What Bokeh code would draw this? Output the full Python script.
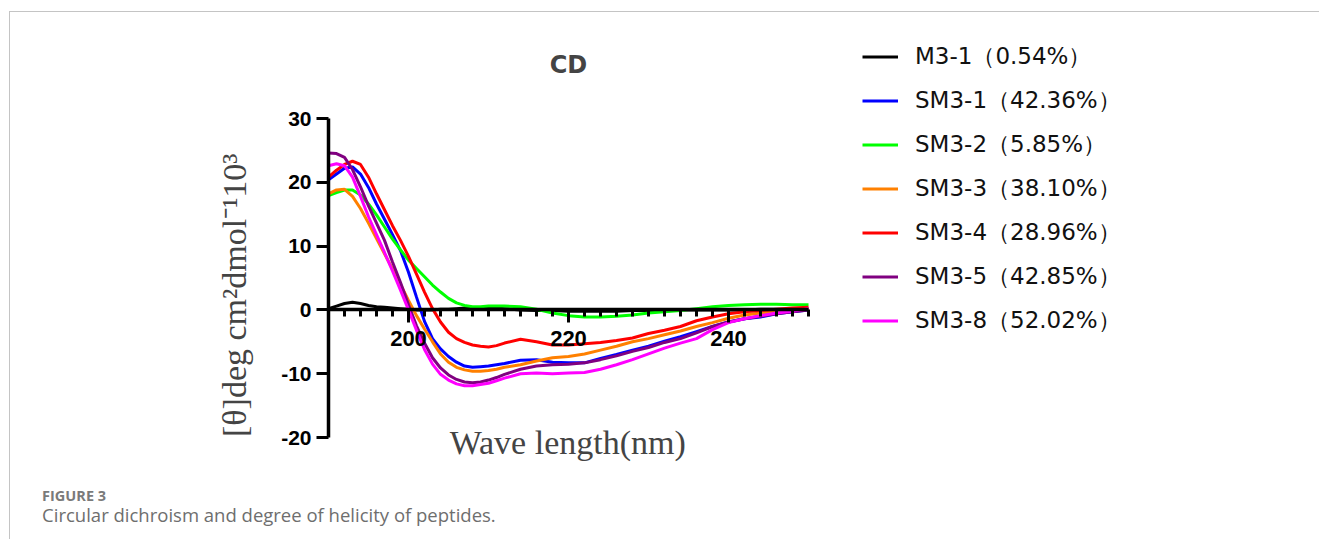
from math import pi
from bokeh.plotting import figure
from bokeh.models import Range1d, FixedTicker, Label, Legend, LegendItem
from bokeh.embed import file_html
from bokeh.resources import INLINE

# ---------------- data ----------------
wavelength = list(range(190, 213)) + list(range(214, 251, 2))

m3_1 = [0.2, 0.6, 1.0, 1.2, 1.0, 0.7, 0.5, 0.4, 0.3, 0.2, 0.1, 0.0, 0.0, 0.0, 0.1, 0.1, 0.2, 0.3, 0.3, 0.3, 0.3, 0.3, 0.2,
        0.0, -0.1, -0.1, -0.2, -0.2, -0.2, -0.2, -0.1, -0.1, 0.0, 0.0, 0.0, 0.0, 0.0, 0.0, 0.1, 0.1, 0.1, 0.1]
sm3_1 = [20.4, 21.3, 22.2, 22.4, 21.3, 19.2, 16.6, 14.2, 11.8, 9.3, 5.9, 2.0, -1.8, -4.5, -6.1, -7.3, -8.2, -8.8, -9.0, -8.9, -8.8, -8.6, -8.4,
         -7.9, -7.8, -8.2, -8.3, -8.3, -7.6, -7.0, -6.3, -5.7, -4.9, -4.2, -3.4, -2.6, -1.9, -1.4, -1.1, -0.6, -0.3, 0.0]
sm3_2 = [17.9, 18.4, 18.8, 18.8, 18.0, 16.6, 14.9, 13.0, 11.1, 9.4, 7.8, 6.5, 5.2, 3.9, 2.8, 1.8, 1.1, 0.7, 0.5, 0.5, 0.6, 0.6, 0.6,
         0.5, 0.1, -0.5, -0.9, -1.1, -1.1, -1.0, -0.8, -0.5, -0.3, -0.1, 0.2, 0.5, 0.7, 0.8, 0.9, 0.9, 0.8, 0.8]
sm3_3 = [18.2, 18.8, 18.9, 17.8, 15.9, 13.6, 11.2, 8.8, 6.4, 4.0, 1.5, -0.9, -3.0, -5.0, -6.9, -8.2, -9.0, -9.4, -9.6, -9.6, -9.5, -9.3, -9.0,
         -8.6, -8.0, -7.5, -7.3, -6.9, -6.3, -5.7, -5.0, -4.5, -3.9, -3.3, -2.6, -2.0, -1.3, -0.8, -0.5, -0.3, -0.1, 0.2]
sm3_4 = [20.8, 21.9, 22.8, 23.3, 22.8, 20.8, 18.2, 15.7, 13.2, 10.9, 8.4, 5.6, 2.8, 0.2, -1.9, -3.5, -4.5, -5.1, -5.5, -5.7, -5.8, -5.6, -5.2,
         -4.6, -5.0, -5.5, -5.5, -5.3, -5.1, -4.8, -4.4, -3.7, -3.2, -2.6, -1.7, -1.1, -0.6, -0.3, -0.1, 0.1, 0.3, 0.4]
sm3_5 = [24.6, 24.5, 23.9, 22.0, 19.3, 16.3, 13.6, 10.9, 7.5, 4.3, 0.8, -2.5, -5.2, -7.5, -9.1, -10.2, -10.9, -11.3, -11.4, -11.3, -11.0, -10.6, -10.1,
         -9.3, -8.8, -8.6, -8.5, -8.3, -7.8, -7.2, -6.5, -5.9, -5.1, -4.5, -3.6, -2.6, -1.9, -1.4, -1.0, -0.6, -0.3, 0.0]
sm3_8 = [22.6, 22.9, 22.6, 20.8, 17.8, 14.6, 11.8, 9.0, 6.1, 3.1, 0.0, -3.2, -6.2, -8.5, -10.1, -11.0, -11.6, -11.9, -11.9, -11.7, -11.5, -11.1, -10.7,
         -10.0, -9.9, -10.0, -9.9, -9.8, -9.3, -8.6, -7.8, -6.9, -6.0, -5.2, -4.5, -3.1, -2.0, -1.4, -0.9, -0.5, -0.2, 0.2]

series_labels = ["M3-1（0.54%）", "SM3-1（42.36%）", "SM3-2（5.85%）", "SM3-3（38.10%）",
                 "SM3-4（28.96%）", "SM3-5（42.85%）", "SM3-8（52.02%）"]
series_values = [m3_1, sm3_1, sm3_2, sm3_3, sm3_4, sm3_5, sm3_8]
series_colors = ["#000000", "#0000FF", "#00FF00", "#FF8000", "#FF0000", "#800080", "#FF00FF"]

x_bounds = (190, 250)
y_bounds = (-20, 30)
x_major = [200, 220, 240]
x_minor = list(range(190, 251, 2))
y_major = [-20, -10, 0, 10, 20, 30]

# ---------------- figure ----------------
W, H = 1310, 528
PX_PER_NM = 8.0
PX_PER_UNIT = 6.38
x0 = 190 - 318 / PX_PER_NM
y1 = 30 + 106 / PX_PER_UNIT
p = figure(width=W, height=H,
           x_range=Range1d(x0, x0 + W / PX_PER_NM),
           y_range=Range1d(y1 - H / PX_PER_UNIT, y1),
           output_backend="svg", toolbar_location=None, min_border=0)
p.title.visible = False
p.styles = {"border-top": "1px solid #c4c4c4", "border-left": "1px solid #c4c4c4",
            "margin-left": "9px", "margin-top": "11px"}
p.outline_line_color = None
p.xgrid.visible = False
p.ygrid.visible = False
p.background_fill_color = "white"
p.border_fill_color = "white"

items = []
for lab, vals, col in zip(series_labels, series_values, series_colors):
    r = p.line(wavelength, vals, line_color=col, line_width=3)
    items.append(LegendItem(label=lab, renderers=[r]))

# axes
xa = p.xaxis[0]
xa.fixed_location = 0
xa.bounds = x_bounds
xa.ticker = FixedTicker(ticks=x_major, minor_ticks=x_minor)
xa.axis_line_width = 3.5
xa.major_tick_line_width = 3
xa.minor_tick_line_width = 3
xa.major_tick_out = 13
xa.major_tick_in = 0
xa.minor_tick_out = 7
xa.minor_tick_in = 0
xa.major_label_text_font = "Liberation Sans"
xa.major_label_text_font_style = "bold"
xa.major_label_text_font_size = "22px"
xa.major_label_text_color = "black"
xa.major_label_standoff = 8

ya = p.yaxis[0]
ya.fixed_location = 190
ya.bounds = y_bounds
ya.ticker = FixedTicker(ticks=y_major, minor_ticks=[])
ya.major_label_overrides = {v: str(v) for v in y_major}
ya.axis_line_width = 3.5
ya.major_tick_line_width = 3
ya.major_tick_out = 12
ya.major_tick_in = 0
ya.minor_tick_out = 0
ya.minor_tick_in = 0
ya.major_label_text_font = "Liberation Sans"
ya.major_label_text_font_style = "bold"
ya.major_label_text_font_size = "21px"
ya.major_label_text_color = "black"
ya.major_label_standoff = 5

# legend
legend = Legend(items=items, location=(852, 204), orientation="vertical",
                background_fill_alpha=0, border_line_color=None,
                padding=0, margin=0, spacing=13,
                glyph_width=36, glyph_height=25, label_height=25,
                label_standoff=17, label_text_font="DejaVu Sans",
                label_text_font_size="23px", label_text_color="#111111")
p.add_layout(legend)

# texts
p.add_layout(Label(x=220, y=38.4, text="CD", text_font="DejaVu Sans", text_font_style="bold",
                   text_font_size="24px", text_align="center", text_baseline="alphabetic"))
p.add_layout(Label(x=219.9, y=-20.8, text="Wave length(nm)", text_font="Liberation Serif",
                   text_font_size="34px", text_align="center", text_baseline="alphabetic"))
p.add_layout(Label(x=178.3, y=2.3, text="[θ]deg cm²dmol⁻¹10³", text_font="Liberation Serif",
                   text_font_size="34px", text_align="center", text_baseline="middle", angle=pi / 2))
p.add_layout(Label(x=154.2, y=-29.1, text="FIGURE 3", text_font="Open Sans", text_font_style="bold",
                   text_font_size="14.5px", text_color="#7a7a7a", text_align="left", text_baseline="alphabetic"))
p.add_layout(Label(x=154.2, y=-32.0, text="Circular dichroism and degree of helicity of peptides.",
                   text_font="Open Sans", text_font_size="18.5px", text_color="#6e6e6e",
                   text_align="left", text_baseline="alphabetic"))

open("out.html", "w").write(file_html(p, INLINE))
